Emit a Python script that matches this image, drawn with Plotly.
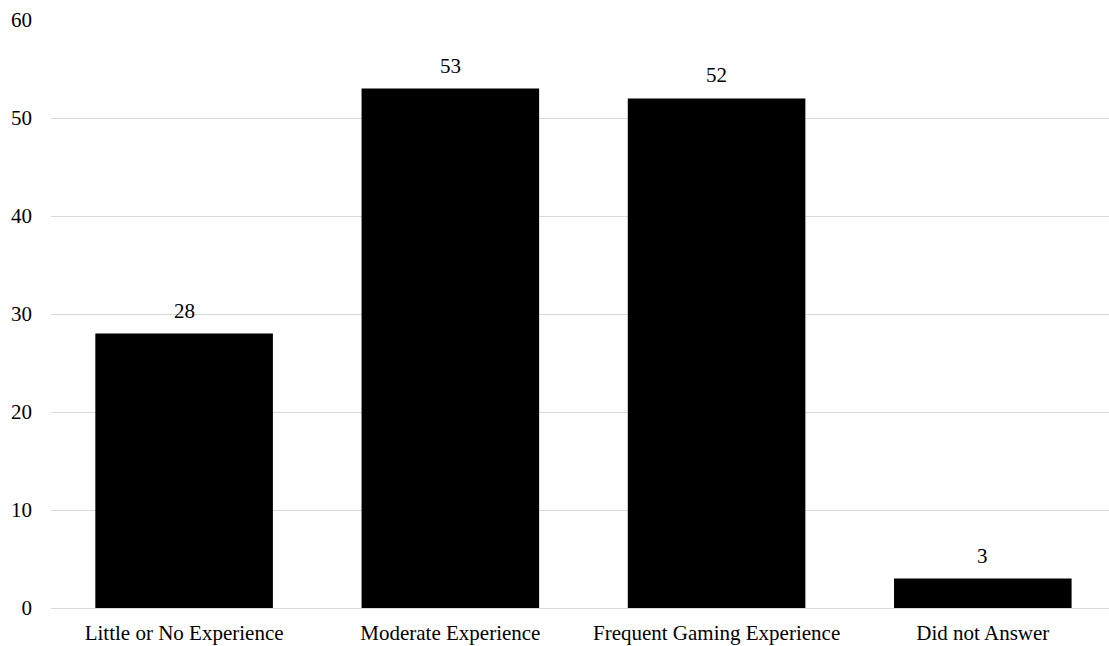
import plotly.graph_objects as go

categories = ["Little or No Experience", "Moderate Experience", "Frequent Gaming Experience", "Did not Answer"]
values = [28, 53, 52, 3]

FONT = "'Times New Roman', 'Liberation Serif', serif"

fig = go.Figure(go.Bar(
    x=categories, y=values,
    marker=dict(color="#000000", line=dict(width=0)),
    width=0.667,
    cliponaxis=False,
))

for c, v in zip(categories, values):
    fig.add_annotation(x=c, y=v, text=str(v), showarrow=False,
                       yanchor="middle", yshift=23,
                       font=dict(family=FONT, size=21, color="#000000"))

fig.update_layout(
    width=1109, height=646,
    margin=dict(l=51, r=0, t=20, b=38),
    paper_bgcolor="white", plot_bgcolor="white",
    font=dict(family=FONT, size=21, color="#000000"),
    showlegend=False,
    xaxis=dict(range=[-0.5, 3.474], showgrid=False, showline=False, ticks="",
               ticklabelstandoff=10, zeroline=False),
    yaxis=dict(range=[0, 60], dtick=10, showgrid=True, gridcolor="#d9d9d9", gridwidth=1,
               zeroline=True, zerolinecolor="#d9d9d9", zerolinewidth=1,
               showline=False, ticks="", ticklabelstandoff=18),
)

fig.write_html("out.html")
